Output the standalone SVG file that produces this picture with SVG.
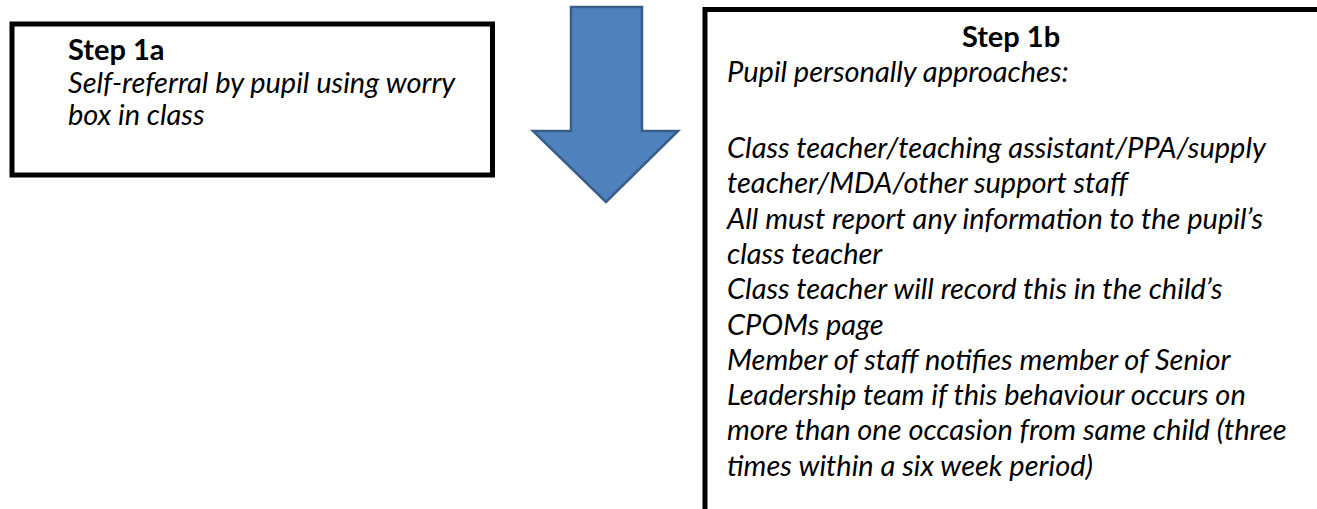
<svg xmlns="http://www.w3.org/2000/svg" width="1317" height="509" viewBox="0 0 1317 509">
<style>
.box{fill:#fff;stroke:#000;stroke-width:5}
.t{font-family:Lato,"Open Sans","Liberation Sans",sans-serif;font-size:29px;fill:#000}
.b{font-weight:bold}
.i{font-style:italic}
.arrow{fill:#4F81BD;stroke:#385D8A;stroke-width:2.5;stroke-linejoin:miter}
</style>
<rect width="1317" height="509" fill="#fff"/>
<g id="step1a">
<rect class="box" x="12" y="24" width="480.5" height="151"/>
<text class="t b" x="68" y="60">Step 1a</text>
<text class="t i" x="68" y="93">Self-referral by pupil using worry</text>
<text class="t i" x="68" y="125">box in class</text>
</g>
<g id="connectors">
<polygon class="arrow" points="571,7 642,7 642,131 678,131 606,202 533,131 571,131"/>
</g>
<g id="step1b">
<rect class="box" x="705" y="9.5" width="700" height="600"/>
<text class="t b" x="1011" y="47" text-anchor="middle">Step 1b</text>
<text class="t i" x="727" y="82">Pupil personally approaches:</text>
<text class="t i" x="727" y="158">Class teacher/teaching assistant/PPA/supply</text>
<text class="t i" x="727" y="193">teacher/MDA/other support staff</text>
<text class="t i" x="727" y="229">All must report any information to the pupil’s</text>
<text class="t i" x="727" y="264">class teacher</text>
<text class="t i" x="727" y="299">Class teacher will record this in the child’s</text>
<text class="t i" x="727" y="335">CPOMs page</text>
<text class="t i" x="727" y="370">Member of staff notifies member of Senior</text>
<text class="t i" x="727" y="405">Leadership team if this behaviour occurs on</text>
<text class="t i" x="727" y="440">more than one occasion from same child (three</text>
<text class="t i" x="727" y="476">times within a six week period)</text>
</g>
</svg>
